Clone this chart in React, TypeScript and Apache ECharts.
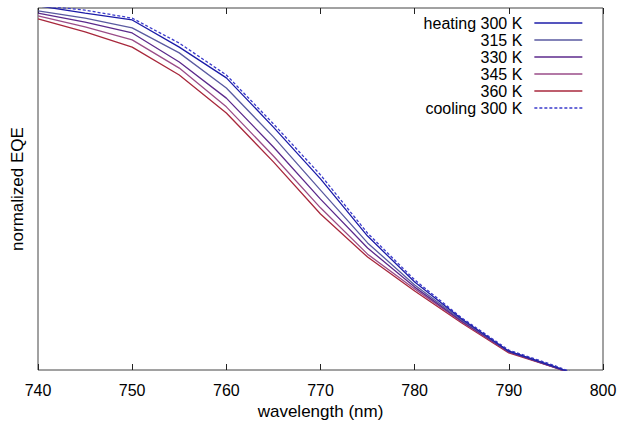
import { useEffect, useRef } from "react";
import * as echarts from "echarts";

const wavelengths = [740, 745, 750, 755, 760, 765, 770, 775, 780, 785, 790, 795, 800];
const heating300 = [1.006, 0.986, 0.967, 0.892, 0.807, 0.671, 0.528, 0.37, 0.243, 0.141, 0.052, 0.008, -0.041];
const heating315 = [0.992, 0.972, 0.945, 0.876, 0.779, 0.644, 0.497, 0.351, 0.235, 0.138, 0.052, 0.008, -0.041];
const heating330 = [0.986, 0.961, 0.931, 0.851, 0.751, 0.616, 0.472, 0.337, 0.229, 0.135, 0.05, 0.006, -0.044];
const heating345 = [0.978, 0.948, 0.912, 0.834, 0.727, 0.591, 0.448, 0.32, 0.224, 0.133, 0.05, 0.006, -0.044];
const heating360 = [0.97, 0.934, 0.892, 0.815, 0.71, 0.575, 0.431, 0.312, 0.218, 0.13, 0.047, 0.006, -0.044];
const cooling300 = [1.008, 0.994, 0.972, 0.903, 0.815, 0.68, 0.539, 0.378, 0.249, 0.144, 0.055, 0.011, -0.041];

const seriesNames = ["heating 300 K", "315 K", "330 K", "345 K", "360 K", "cooling 300 K"];
const seriesValues = [heating300, heating315, heating330, heating345, heating360, cooling300];
const seriesColors = ["#1c1ca8", "#5a5aa0", "#5c2a8c", "#9a4c88", "#a8283c", "#3a3acc"];
const seriesDashed = [false, false, false, false, false, true];

const FONT = "'Liberation Sans', Arial, Helvetica, sans-serif";

export default function App() {
  const ref = useRef<HTMLDivElement>(null);
  useEffect(() => {
    if (!ref.current) return;
    const chart = echarts.init(ref.current, null, { renderer: "svg" });
    const series = seriesNames.map((name, i) => ({
      name,
      type: "line",
      data: wavelengths.map((w, j) => [w, seriesValues[i][j]]),
      showSymbol: false,
      symbol: "none",
      clip: true,
      lineStyle: {
        color: seriesColors[i],
        width: 1.3,
        type: seriesDashed[i] ? [3, 2] : "solid",
      },
      itemStyle: { color: seriesColors[i] },
      z: 10 - i,
    }));
    chart.setOption({
      animation: false,
      backgroundColor: "#ffffff",
      textStyle: { fontFamily: FONT },
      grid: {
        left: 38,
        right: 21,
        top: 8,
        bottom: 62,
        show: true,
        borderColor: "#444",
        borderWidth: 1,
        containLabel: false,
      },
      legend: {
        orient: "vertical",
        right: 41,
        top: 15,
        align: "right",
        padding: 0,
        itemGap: 1,
        itemWidth: 48,
        itemHeight: 10,
        itemStyle: { opacity: 0 },
        lineStyle: { width: 1.3 },
        textStyle: {
          fontFamily: FONT,
          fontSize: 16,
          color: "#000",
          lineHeight: 15,
          padding: [0, 7, 0, 0],
        },
        data: seriesNames,
      },
      xAxis: [
        {
          type: "value",
          min: 740,
          max: 800,
          interval: 10,
          position: "bottom",
          name: "wavelength (nm)",
          nameLocation: "middle",
          nameGap: 31,
          nameTextStyle: { fontFamily: FONT, fontSize: 17, color: "#000" },
          axisLine: { show: false },
          axisTick: { show: true, inside: true, length: 6, lineStyle: { color: "#222" } },
          axisLabel: { fontFamily: FONT, fontSize: 16, color: "#000", margin: 12 },
          splitLine: { show: false },
        },
        {
          type: "value",
          min: 740,
          max: 800,
          interval: 10,
          position: "top",
          axisLine: { show: false },
          axisTick: { show: true, inside: true, length: 6, lineStyle: { color: "#222" } },
          axisLabel: { show: false },
          splitLine: { show: false },
        },
      ],
      yAxis: {
        type: "value",
        min: 0,
        max: 1,
        name: "normalized EQE",
        nameLocation: "middle",
        nameGap: 12,
        nameTextStyle: { fontFamily: FONT, fontSize: 17, color: "#000" },
        axisLine: { show: false },
        axisTick: { show: false },
        axisLabel: { show: false },
        splitLine: { show: false },
      },
      series,
    });
    return () => chart.dispose();
  }, []);
  return <div ref={ref} style={{ width: 624, height: 432, position: "absolute", left: 0, top: 0 }} />;
}
